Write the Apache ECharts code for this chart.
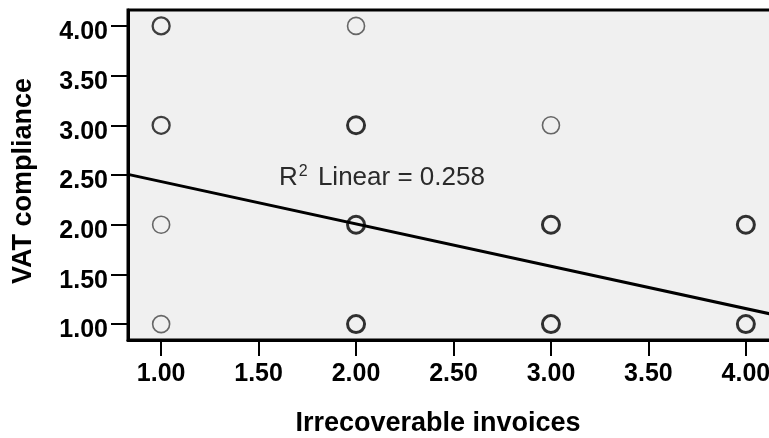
<!DOCTYPE html>
<html><head><meta charset="utf-8">
<script src="https://cdn.jsdelivr.net/npm/echarts@6/dist/echarts.min.js"></script>
<style>html,body{margin:0;padding:0;background:#fff}#c{width:769px;height:438px}</style>
</head><body><div id="c"></div>
<script>
// Tick labels
const xTicks = [1.0, 1.5, 2.0, 2.5, 3.0, 3.5, 4.0];
const yTicks = [1.0, 1.5, 2.0, 2.5, 3.0, 3.5, 4.0];
// Axis titles
const xTitle = 'Irrecoverable invoices';
const yTitle = 'VAT compliance';
// Observations (grouped by how many cases overlap on each point)
const singleX = [1, 1, 2, 3];
const singleY = [2, 1, 4, 3];
const fewX = [1, 1];
const fewY = [4, 3];
const manyX = [2, 2, 2, 3, 3, 4, 4];
const manyY = [3, 2, 1, 2, 1, 2, 1];
// Linear fit
const fitIntercept = 2.86;
const fitSlope = -0.426;
const fitR2 = '0.258';

const xMin = 0.83, xMax = 4.17, yMin = 0.84, yMax = 4.16;
const FONT = '"Liberation Sans", Arial, sans-serif';

const pairs = (xs, ys) => xs.map((x, i) => [x, ys[i]]);
const fitData = [xMin, xMax].map(x => [x, fitIntercept + fitSlope * x]);

const chart = echarts.init(document.getElementById('c'));
chart.setOption({
  animation: false,
  grid: {
    left: 128, top: 10, width: 651, height: 330, outerBoundsMode: 'none', containLabel: false,
    show: true, backgroundColor: '#f0f0f0', borderColor: '#000', borderWidth: 3
  },
  xAxis: {
    type: 'value', min: xMin, max: xMax,
    axisLine: { show: true, lineStyle: { color: '#000', width: 3 } },
    axisTick: { show: true, length: 16, customValues: xTicks, lineStyle: { color: '#000', width: 2 } },
    axisLabel: { customValues: xTicks, formatter: v => v.toFixed(2), margin: 22,
      fontFamily: FONT, fontSize: 25, fontWeight: 'bold', color: '#000' },
    splitLine: { show: false }
  },
  yAxis: {
    type: 'value', min: yMin, max: yMax,
    axisLine: { show: true, lineStyle: { color: '#000', width: 3 } },
    axisTick: { show: true, length: 17, customValues: yTicks, lineStyle: { color: '#000', width: 2 } },
    axisLabel: { customValues: yTicks, formatter: v => v.toFixed(2), margin: 20,
      fontFamily: FONT, fontSize: 25, fontWeight: 'bold', color: '#000',
      verticalAlign: 'top', lineHeight: 13 },
    splitLine: { show: false }
  },
  series: [
    { type: 'line', data: fitData, symbol: 'none', silent: true,
      lineStyle: { color: '#000', width: 3 }, z: 3 },
    { type: 'scatter', data: pairs(singleX, singleY), symbol: 'circle', symbolSize: 17,
      itemStyle: { color: 'rgba(0,0,0,0)', borderColor: '#444', borderWidth: 1.6 }, z: 4 },
    { type: 'scatter', data: pairs(fewX, fewY), symbol: 'circle', symbolSize: 17,
      itemStyle: { color: 'rgba(0,0,0,0)', borderColor: '#111', borderWidth: 2.3 }, z: 4 },
    { type: 'scatter', data: pairs(manyX, manyY), symbol: 'circle', symbolSize: 17,
      itemStyle: { color: 'rgba(0,0,0,0)', borderColor: '#000', borderWidth: 3 }, z: 4 }
  ],
  graphic: [
    { type: 'text', x: 438, y: 424, style: { text: xTitle, font: 'bold 27px ' + FONT,
      align: 'center', verticalAlign: 'middle', fill: '#000' } },
    { type: 'text', x: 24, y: 181, rotation: Math.PI / 2, style: { text: yTitle, font: 'bold 27px ' + FONT,
      align: 'center', verticalAlign: 'middle', fill: '#000' } },
    { type: 'text', x: 279, y: 178, z: 10, style: {
      text: '{r|R}{s|2}{n| Linear = ' + fitR2 + '}',
      verticalAlign: 'middle', align: 'left',
      rich: {
        r: { fontFamily: FONT, fontSize: 26, fill: '#2a2a2a', color: '#2a2a2a' },
        s: { fontFamily: FONT, fontSize: 16, fill: '#2a2a2a', color: '#2a2a2a', padding: [0, 3, 12, 1] },
        n: { fontFamily: FONT, fontSize: 26, fill: '#2a2a2a', color: '#2a2a2a' }
      } } }
  ]
});
</script></body></html>
